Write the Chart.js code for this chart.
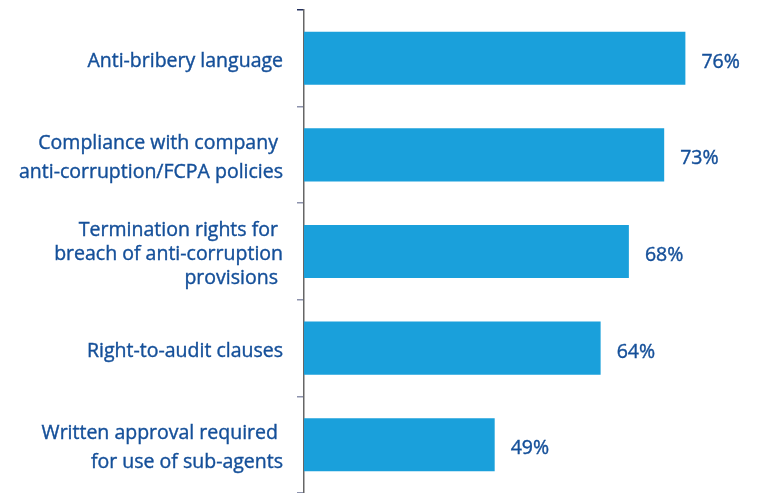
<!DOCTYPE html>
<html>
<head>
<meta charset="utf-8">
<style>
html,body{margin:0;padding:0;background:#fff;}
#c{display:block;}
</style>
<script src="https://cdn.jsdelivr.net/npm/chart.js@4"></script>
</head>
<body>
<canvas id="c" width="765" height="493"></canvas>
<script>
const categories = [
  ["Anti-bribery language"],
  ["Compliance with company ", "anti-corruption/FCPA policies"],
  ["Termination rights for ", "breach of anti-corruption", "provisions "],
  ["Right-to-audit clauses"],
  ["Written approval required ", "for use of sub-agents"]
];
const values = [76, 73, 68, 64, 49];
const valueLabels = ["76%", "73%", "68%", "64%", "49%"];

const BAR = '#1aa0db';
const TXT = '#144f99';
const FONT = "'Open Sans', 'Noto Sans', sans-serif";

const valueLabelPlugin = {
  id: 'valueLabels',
  afterDatasetsDraw(chart) {
    const ctx = chart.ctx;
    const meta = chart.getDatasetMeta(0);
    const xs = chart.scales.x;
    ctx.save();
    ctx.fillStyle = TXT;
    ctx.strokeStyle = TXT;
    ctx.lineWidth = 0.4;
    ctx.font = "19.5px " + FONT;
    ctx.textAlign = 'left';
    ctx.textBaseline = 'middle';
    meta.data.forEach((bar, i) => {
      const x = xs.getPixelForValue(values[i]);
      ctx.strokeText(valueLabels[i], x + 16, bar.y + 4);
      ctx.fillText(valueLabels[i], x + 16, bar.y + 4);
    });
    ctx.restore();
  }
};

new Chart(document.getElementById('c'), {
  type: 'bar',
  data: {
    labels: categories,
    datasets: [{
      data: values,
      backgroundColor: BAR,
      borderWidth: 0,
      categoryPercentage: 1,
      barPercentage: 0.55
    }]
  },
  options: {
    indexAxis: 'y',
    responsive: false,
    animation: false,
    devicePixelRatio: 1,
    layout: { padding: { top: 10, right: 9, bottom: 0, left: 0 } },
    plugins: { legend: { display: false }, tooltip: { enabled: false } },
    scales: {
      x: { display: false, min: 22, max: 86 },
      y: {
        afterFit(scale) {
          scale.width = 304;
          scale.paddingTop = 0;
          scale.paddingBottom = 0;
        },
        border: { display: true, color: '#666', width: 1.5 },
        grid: {
          drawOnChartArea: false,
          drawTicks: true,
          tickLength: 7,
          color: (ctx) => ctx.index === 0 ? '#23305e' : '#8d93ad',
          lineWidth: 1.5
        },
        ticks: {
          color: TXT,
          textStrokeColor: TXT,
          textStrokeWidth: 0.4,
          padding: 14,
          labelOffset: 3,
          font: (ctx) => ({
            family: FONT,
            size: 19.5,
            lineHeight: ctx.index === 2 ? 1.23 : 1.5
          })
        }
      }
    }
  },
  plugins: [valueLabelPlugin]
});
</script>
</body>
</html>
